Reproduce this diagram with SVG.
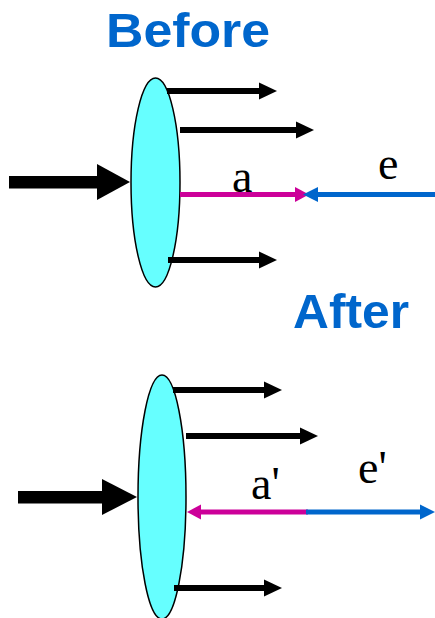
<svg xmlns="http://www.w3.org/2000/svg" width="435" height="618" viewBox="0 0 435 618">
  <style>
    .title { font-family: "Liberation Sans", Arial, sans-serif; font-weight: bold; font-size: 48px; fill: #0066CC; }
    .lbl { font-family: "Liberation Serif", "Times New Roman", serif; font-size: 46px; fill: #000; }
    .lens { fill: #66FFFF; stroke: #000; stroke-width: 1.5; }
    .ray { stroke: #000; stroke-width: 6; fill: none; marker-end: url(#hk); }
    .big { fill: #000; }
    .mag { stroke: #CC0099; stroke-width: 5; fill: none; }
    .blu { stroke: #0066CC; stroke-width: 5; fill: none; }
  </style>
  <defs>
    <marker id="hk" markerUnits="userSpaceOnUse" markerWidth="18" markerHeight="17" refX="0" refY="8.5" orient="auto" overflow="visible">
      <path d="M0,0 L18,8.5 L0,17 Z" fill="#000"/>
    </marker>
    <marker id="hm" markerUnits="userSpaceOnUse" markerWidth="14" markerHeight="15" refX="0" refY="7.5" orient="auto" overflow="visible">
      <path d="M0,0 L14,7.5 L0,15 Z" fill="#CC0099"/>
    </marker>
    <marker id="hb" markerUnits="userSpaceOnUse" markerWidth="15" markerHeight="15" refX="0" refY="7.5" orient="auto" overflow="visible">
      <path d="M0,0 L15,7.5 L0,15 Z" fill="#0066CC"/>
    </marker>
  </defs>

  <!-- upper panel -->
  <g id="title-before">
    <text class="title" x="106" y="47" textLength="164" lengthAdjust="spacingAndGlyphs">Before</text>
  </g>
  <g id="lens-before">
    <ellipse class="lens" cx="155.5" cy="182.5" rx="24.5" ry="104.5"/>
  </g>
  <g id="connectors-before">
    <rect class="big" x="9" y="176" width="89" height="12.5"/>
    <polygon class="big" points="97,164 130,182 97,200"/>
    <line class="ray" x1="167" y1="91" x2="259" y2="91"/>
    <line class="ray" x1="180" y1="130" x2="296" y2="130"/>
    <line class="ray" x1="168" y1="260" x2="259" y2="260"/>
    <line class="mag" x1="180" y1="194.5" x2="295" y2="194.5" marker-end="url(#hm)"/>
    <line class="blu" x1="435" y1="194.5" x2="318" y2="194.5" marker-end="url(#hb)"/>
  </g>
  <g id="labels-before">
    <text class="lbl" x="232" y="192">a</text>
    <text class="lbl" x="378" y="179">e</text>
  </g>

  <!-- lower panel -->
  <g id="title-after">
    <text class="title" x="293" y="328" textLength="116" lengthAdjust="spacingAndGlyphs">After</text>
  </g>
  <g id="lens-after">
    <ellipse class="lens" cx="162" cy="497" rx="24" ry="122"/>
  </g>
  <g id="connectors-after">
    <rect class="big" x="18" y="491" width="85" height="12.5"/>
    <polygon class="big" points="102,479 137,497 102,515"/>
    <line class="ray" x1="173" y1="390" x2="264" y2="390"/>
    <line class="ray" x1="186" y1="436" x2="300" y2="436"/>
    <line class="ray" x1="174" y1="588" x2="264" y2="588"/>
    <line class="mag" x1="308" y1="512" x2="201" y2="512" marker-end="url(#hm)"/>
    <line class="blu" x1="306" y1="512" x2="420" y2="512" marker-end="url(#hb)"/>
  </g>
  <g id="labels-after">
    <text class="lbl" x="251" y="499">a'</text>
    <text class="lbl" x="358" y="483">e'</text>
  </g>
</svg>
